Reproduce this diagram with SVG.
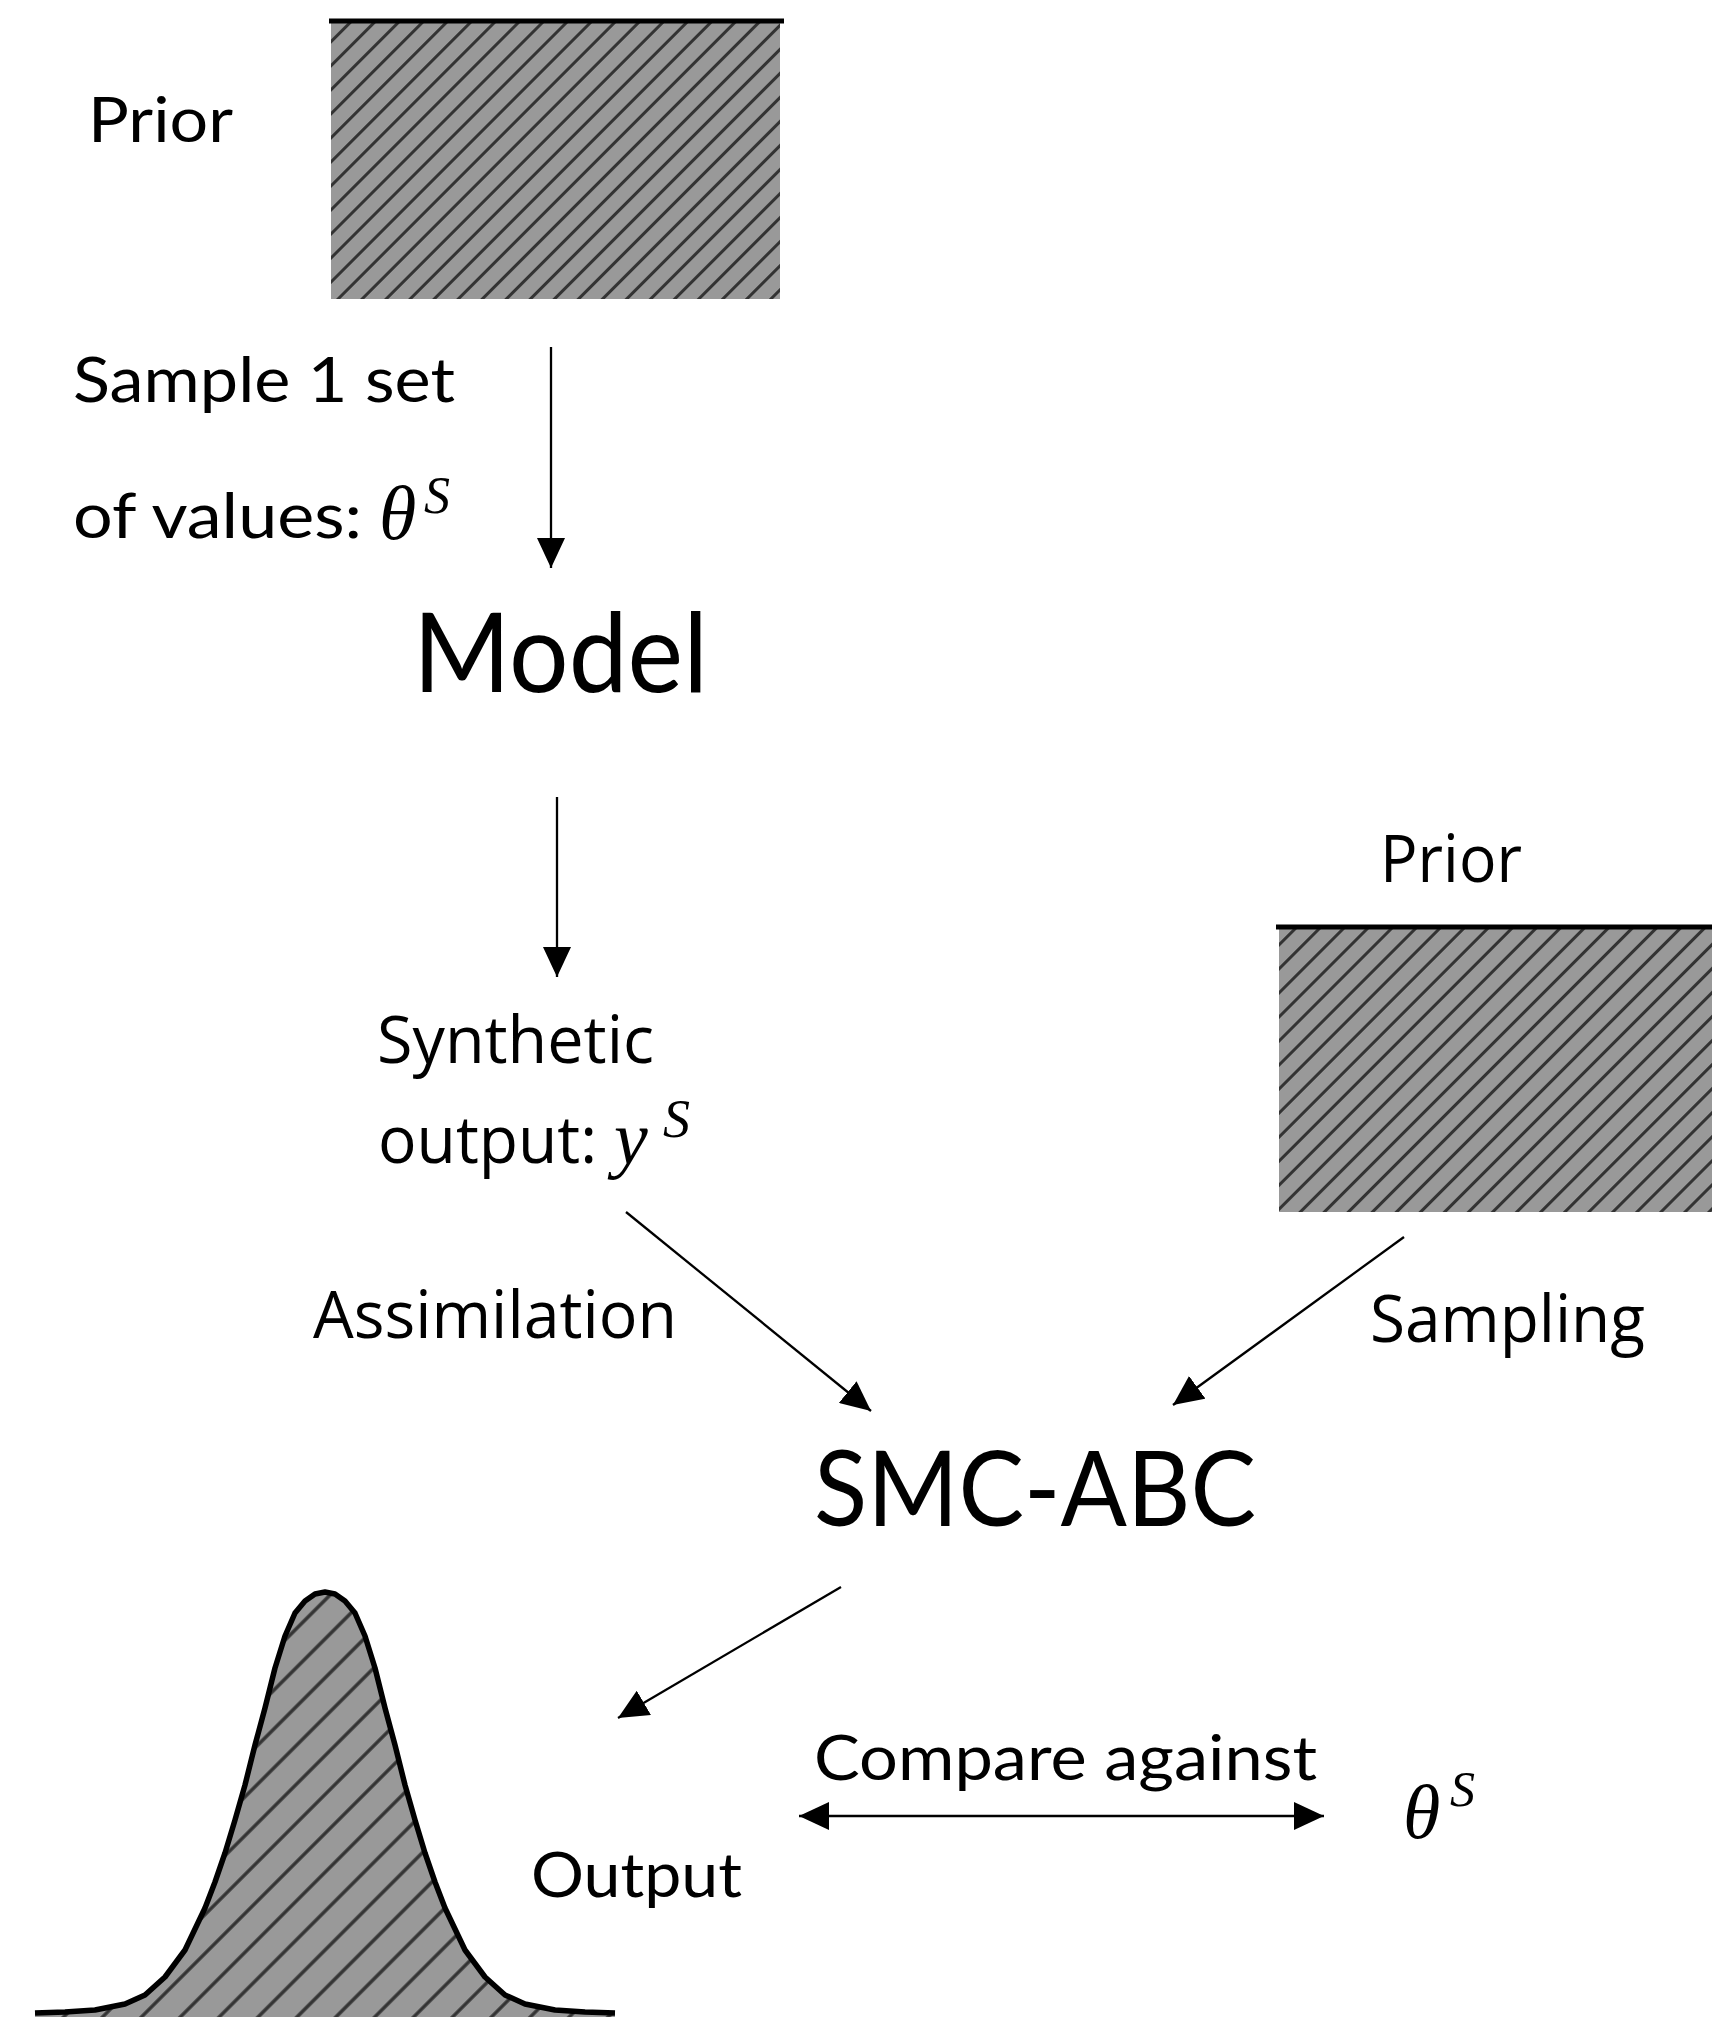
<svg xmlns="http://www.w3.org/2000/svg" width="1712" height="2017" viewBox="0 0 1712 2017">
<style>
.cal{font-family:Lato,"Liberation Sans",sans-serif;fill:#000}
.seg{font-family:"Open Sans","Liberation Sans",sans-serif;fill:#000}
.math{font-family:"Liberation Serif","DejaVu Serif",serif;font-style:italic;fill:#000}
.conn{stroke:#000;stroke-width:2.3;fill:none}
.edge{stroke:#000;stroke-width:5}
</style>
<defs>
<pattern id="hatchRect" patternUnits="userSpaceOnUse" width="17" height="17" patternTransform="rotate(45)">
<rect width="17" height="17" fill="#999"/>
<line x1="8.5" y1="-1" x2="8.5" y2="18" stroke="#333" stroke-width="3"/>
</pattern>
<pattern id="hatchBell" patternUnits="userSpaceOnUse" width="27.5" height="27.5" patternTransform="rotate(45)">
<rect width="27.5" height="27.5" fill="#999"/>
<line x1="13.75" y1="-1" x2="13.75" y2="28.5" stroke="#333" stroke-width="3.4"/>
</pattern>
<marker id="arr" viewBox="0 0 30 28" refX="30" refY="14" markerWidth="30" markerHeight="28" markerUnits="userSpaceOnUse" orient="auto-start-reverse">
<path d="M0,0 L30,14 L0,28 z" fill="#000"/>
</marker>
</defs>
<rect width="1712" height="2017" fill="#fff"/>

<g id="prior-top">
<rect x="331" y="21" width="449" height="278" fill="url(#hatchRect)"/>
<line class="edge" x1="329" y1="21" x2="784" y2="21"/>
<text class="cal" x="88" y="142" font-size="62" textLength="145" lengthAdjust="spacingAndGlyphs">Prior</text>
</g>

<g id="sample-label">
<text class="cal" x="73" y="402" font-size="62" textLength="382" lengthAdjust="spacingAndGlyphs">Sample 1 set</text>
<text class="cal" x="73" y="538" font-size="62" textLength="289" lengthAdjust="spacingAndGlyphs">of values:</text>
<text class="math" x="379" y="539" font-size="76">θ</text>
<text class="math" x="424" y="513" font-size="52">S</text>
</g>

<g id="model">
<text class="cal" x="413" y="692" font-size="110" textLength="295" lengthAdjust="spacingAndGlyphs">Model</text>
</g>

<g id="synthetic-output">
<text class="seg" x="377" y="1063" font-size="66" textLength="277" lengthAdjust="spacingAndGlyphs">Synthetic</text>
<text class="seg" x="378" y="1163" font-size="66" textLength="219" lengthAdjust="spacingAndGlyphs">output:</text>
<text class="math" x="614" y="1164" font-size="76">y</text>
<text class="math" x="663" y="1137" font-size="54">S</text>
</g>

<g id="prior-right">
<rect x="1279" y="927" width="433" height="285" fill="url(#hatchRect)"/>
<line class="edge" x1="1276" y1="927" x2="1712" y2="927"/>
<text class="seg" x="1380" y="882" font-size="66" textLength="142" lengthAdjust="spacingAndGlyphs">Prior</text>
</g>

<g id="smc-abc">
<text class="cal" x="814" y="1526" font-size="104" textLength="442" lengthAdjust="spacingAndGlyphs">SMC-ABC</text>
</g>

<g id="output">
<path d="M35,2013 L65,2012 L95,2010 L125,2004 L145,1995 L165,1977 L185,1950 L205,1908 L215,1882 L225,1853 L235,1820 L245,1785 L255,1745 L265,1708 L275,1668 L285,1636 L295,1613 L305,1601 L315,1594 L325,1592 L335,1594 L345,1601 L355,1613 L365,1636 L375,1668 L385,1708 L395,1745 L405,1785 L415,1820 L425,1853 L435,1882 L445,1908 L465,1950 L485,1977 L505,1995 L525,2004 L555,2010 L585,2012 L615,2013 L615,2030 L35,2030 Z" fill="url(#hatchBell)" stroke="none"/>
<path d="M35,2013 L65,2012 L95,2010 L125,2004 L145,1995 L165,1977 L185,1950 L205,1908 L215,1882 L225,1853 L235,1820 L245,1785 L255,1745 L265,1708 L275,1668 L285,1636 L295,1613 L305,1601 L315,1594 L325,1592 L335,1594 L345,1601 L355,1613 L365,1636 L375,1668 L385,1708 L395,1745 L405,1785 L415,1820 L425,1853 L435,1882 L445,1908 L465,1950 L485,1977 L505,1995 L525,2004 L555,2010 L585,2012 L615,2013" fill="none" stroke="#000" stroke-width="5.5" stroke-linejoin="round"/>
<text class="cal" x="531" y="1897" font-size="62" textLength="211" lengthAdjust="spacingAndGlyphs">Output</text>
</g>

<g id="theta-compare">
<text class="math" x="1403" y="1838" font-size="76">θ</text>
<text class="math" x="1450" y="1806" font-size="50">S</text>
</g>

<g id="connectors">
<line class="conn" x1="551" y1="347" x2="551" y2="568" marker-end="url(#arr)"/>
<line class="conn" x1="557" y1="797" x2="557" y2="977" marker-end="url(#arr)"/>
<line class="conn" x1="626" y1="1212" x2="871" y2="1411" marker-end="url(#arr)"/>
<line class="conn" x1="1404" y1="1237" x2="1173" y2="1405" marker-end="url(#arr)"/>
<line class="conn" x1="841" y1="1587" x2="618" y2="1718" marker-end="url(#arr)"/>
<line class="conn" x1="799" y1="1816" x2="1324" y2="1816" stroke-width="3.5" marker-start="url(#arr)" marker-end="url(#arr)"/>
<text class="cal" x="814" y="1780" font-size="61" textLength="503" lengthAdjust="spacingAndGlyphs">Compare against</text>
<text class="seg" x="313" y="1338" font-size="66" textLength="364" lengthAdjust="spacingAndGlyphs">Assimilation</text>
<text class="seg" x="1370" y="1342" font-size="66" textLength="275" lengthAdjust="spacingAndGlyphs">Sampling</text>
</g>
</svg>
